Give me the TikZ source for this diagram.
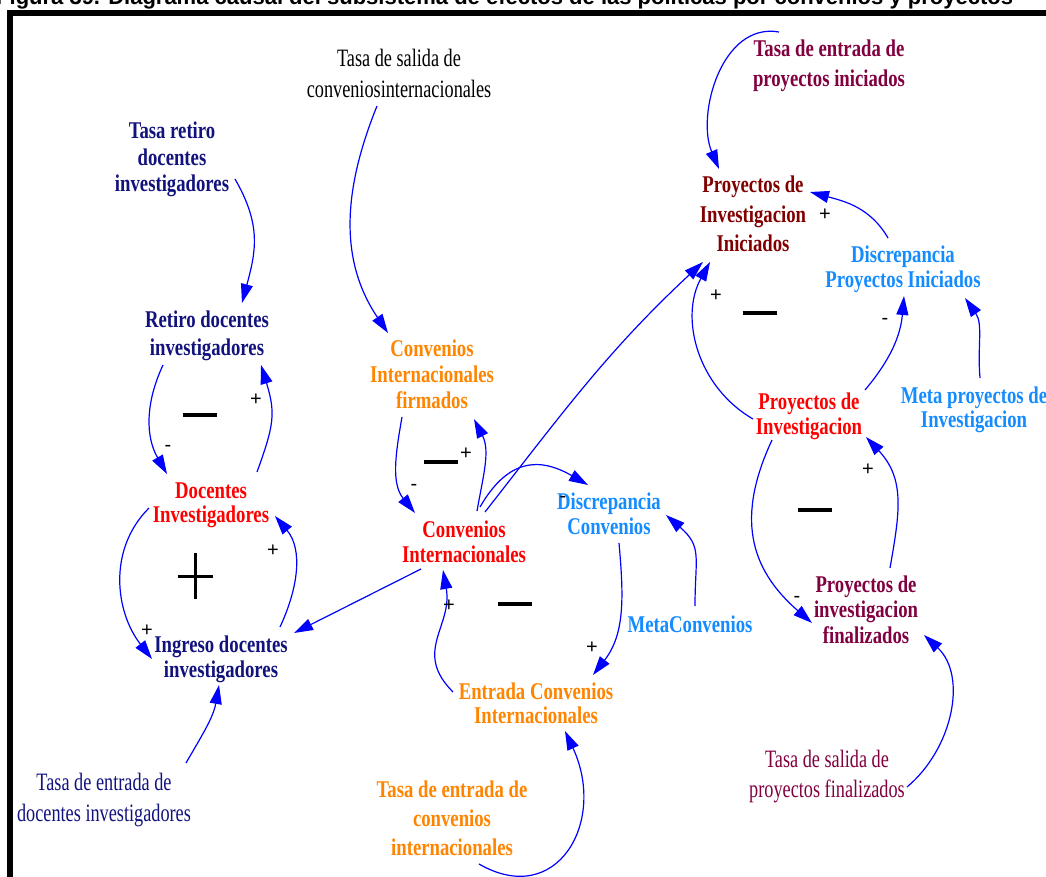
\documentclass[tikz,border=0pt]{standalone}
\usepackage{fontspec}
\usetikzlibrary{arrows.meta}
% condensed serif faces for the variable names
\newfontfamily\vsbold[FakeStretch=0.78]{Liberation Serif}
\newfontfamily\vsreg[FakeStretch=0.73]{Liberation Serif}
\newfontfamily\sgnfont{Liberation Sans}
\definecolor{navyc}{RGB}{18,18,125}
\definecolor{redc}{RGB}{255,0,0}
\definecolor{orangec}{RGB}{255,133,0}
\definecolor{lbluec}{RGB}{20,140,255}
\definecolor{darkredc}{RGB}{128,0,0}
\definecolor{maroonc}{RGB}{128,0,64}
\definecolor{linkblue}{RGB}{0,0,255}
% centred multi-line label whose baseline is that of its first line
\newcommand\vlines[2][26]{\baselineskip=#1pt\vtop{\halign{\hfil##\hfil\cr#2\crcr}}}
\tikzset{
  var/.style={inner sep=0pt, anchor=base, font=\vsbold\bfseries\fontsize{24}{26}\selectfont},
  rate/.style={inner sep=0pt, anchor=base, font=\vsreg\fontsize{25}{31}\selectfont},
  lnk/.style={draw=linkblue, line width=1.2pt, -{Triangle[length=19pt,width=12pt]}},
  sgn/.style={inner sep=0pt, anchor=base, font=\sgnfont\fontsize{20}{20}\selectfont},
  loopmark/.style={inner sep=0pt, anchor=center},
}
\begin{document}
\begin{tikzpicture}[x=1pt, y=1pt]
\useasboundingbox (0,0) rectangle (1046,-877);
\clip (0,0) rectangle (1046,-877);

% caption line above the frame
\node[anchor=base west, inner sep=0pt, font=\sgnfont\bfseries\fontsize{22}{22}\selectfont] (ttl) at (-4,-5)
  {Figura 39. Diagrama causal del subsistema de efectos de las pol\'iticas por convenios y proyectos};
% frame
\draw[line width=6pt] (9.5,-900) -- (9.5,-13.5) -- (1070,-13.5);

% variables
\node[var, text=navyc] (tr) at (172,-139) {\vlines[26.5]{Tasa retiro\cr docentes\cr investigadores}};
\node[var, text=navyc] (rd) at (207,-327) {\vlines[28]{Retiro docentes\cr investigadores}};
\node[var, text=redc] (di) at (211,-498) {\vlines[24.5]{Docentes\cr Investigadores}};
\node[var, text=navyc] (ig) at (221,-652) {\vlines[25]{Ingreso docentes\cr investigadores}};
\node[rate, text=navyc] (ted) at (104,-790) {\vlines[31]{Tasa de entrada de\cr docentes investigadores}};
\node[rate, text=black] (tsc) at (399,-67) {\vlines[31]{Tasa de salida de\cr conveniosinternacionales}};
\node[var, text=orangec] (cf) at (432,-356) {\vlines[26]{Convenios\cr Internacionales\cr firmados}};
\node[var, text=redc] (ci) at (464,-537) {\vlines[25]{Convenios\cr Internacionales}};
\node[var, text=lbluec] (dc) at (609,-509) {\vlines[25]{Discrepancia\cr Convenios}};
\node[var, text=lbluec] (mc) at (690,-632) {MetaConvenios};
\node[var, text=orangec] (ec) at (536,-699) {\vlines[24.5]{Entrada Convenios\cr Internacionales}};
\node[var, text=orangec] (tec) at (452,-797) {\vlines[29]{Tasa de entrada de\cr convenios\cr internacionales}};
\node[var, text=maroonc] (tep) at (829,-57) {\vlines[30]{Tasa de entrada de\cr proyectos iniciados}};
\node[var, text=darkredc] (pii) at (753,-193) {\vlines[29.5]{Proyectos de\cr Investigacion\cr Iniciados}};
\node[var, text=lbluec] (dpi) at (903,-262) {\vlines[25]{Discrepancia\cr Proyectos Iniciados}};
\node[var, text=lbluec] (mpi) at (974,-403) {\vlines[24]{Meta proyectos de\cr Investigacion}};
\node[var, text=redc] (pi) at (809,-409) {\vlines[25]{Proyectos de\cr Investigacion}};
\node[var, text=maroonc] (pf) at (866,-592) {\vlines[25.5]{Proyectos de\cr investigacion\cr finalizados}};
\node[rate, text=maroonc] (tsp) at (827,-767) {\vlines[30]{Tasa de salida de\cr proyectos finalizados}};

% causal links
\draw[lnk] ([shift={(63,-40)}]tr.base) to[out=-60,in=75,looseness=1.1] ([shift={(35,24)}]rd.base);
\draw[lnk] ([shift={(-44,-38)}]rd.base) to[out=-115,in=120] ([shift={(-44,24)}]di.base);
\draw[lnk] ([shift={(46,26)}]di.base) to[out=70,in=-73,looseness=1.2] ([shift={(54,-38)}]rd.base);
\draw[lnk] ([shift={(-62,-10)}]di.base) to[out=-135,in=128] ([shift={(-69,-7)}]ig.base);
\draw[lnk] ([shift={(59,25)}]ig.base) to[out=65,in=-50] ([shift={(64,-18)}]di.base);
\draw[lnk] ([shift={(82,27)}]ted.base) to[out=60,in=-100] ([shift={(-2,-33)}]ig.base);
\draw[lnk] ([shift={(-43,-32)}]ci.base) -- ([shift={(73,19)}]ig.base);
\draw[lnk] ([shift={(-22,-39)}]tsc.base) to[out=-112,in=124] ([shift={(-44,23)}]cf.base);
\draw[lnk] ([shift={(-30,-61)}]cf.base) to[out=-100,in=129] ([shift={(-49,24)}]ci.base);
\draw[lnk] ([shift={(13,26)}]ci.base) to[out=80,in=-63] ([shift={(42,-63)}]cf.base);
\draw[lnk] ([shift={(16,30)}]ci.base) to[out=60,in=150,looseness=1.3] ([shift={(-21,24)}]dc.base);
\draw[lnk] ([shift={(21,25)}]ci.base) to[out=52,in=-137] ([shift={(-50,-69)}]pii.base);
\draw[lnk] ([shift={(10,-34)}]dc.base) to[out=-85,in=52] ([shift={(57,24)}]ec.base);
\draw[lnk] ([shift={(5,26)}]mc.base) to[out=90,in=-41,looseness=1.3] ([shift={(57,-6)}]dc.base);
\draw[lnk] ([shift={(-83,7)}]ec.base) to[out=135,in=-80,looseness=1.2] ([shift={(-21,-33)}]ci.base);
\draw[lnk] ([shift={(27,-67)}]tec.base) .. controls +(-30:90) and +(-65:100) .. ([shift={(29,-32)}]ec.base);
\draw[lnk] ([shift={(-50,25)}]tep.base) to[out=170,in=113] ([shift={(-34,24)}]pii.base);
\draw[lnk] ([shift={(-15,24)}]dpi.base) to[out=120,in=-15] ([shift={(57,1)}]pii.base);
\draw[lnk] ([shift={(-56,-10)}]pi.base) to[out=150,in=-119] ([shift={(-43,-69)}]pii.base);
\draw[lnk] ([shift={(56,19)}]pi.base) to[out=50,in=-95] ([shift={(1,-34)}]dpi.base);
\draw[lnk] ([shift={(6,25)}]mpi.base) to[out=95,in=-55] ([shift={(62,-36)}]dpi.base);
\draw[lnk] ([shift={(-37,-31)}]pi.base) to[out=-115,in=139,looseness=1.15] ([shift={(-54,-31)}]pf.base);
\draw[lnk] ([shift={(24,24)}]pf.base) to[out=80,in=-47,looseness=1.1] ([shift={(57,-28)}]pi.base);
\draw[lnk] ([shift={(80,-20)}]tsp.base) to[out=40,in=-43] ([shift={(58,-43)}]pf.base);

% link polarities
\node[sgn] (s1) at (256,-405) {+};
\node[sgn] (s2) at (168,-451) {-};
\node[sgn] (s3) at (273,-556) {+};
\node[sgn] (s4) at (147,-636) {+};
\node[sgn] (s5) at (466,-459) {+};
\node[sgn] (s6) at (414,-490) {-};
\node[sgn] (s7) at (449,-611) {+};
\node[sgn] (s8) at (592,-653) {+};
\node[sgn] (s9) at (563,-502) {-};
\node[sgn] (s10) at (825,-221) {+};
\node[sgn] (s11) at (716,-301) {+};
\node[sgn] (s12) at (885,-324) {-};
\node[sgn] (s13) at (868,-475) {+};
\node[sgn] (s14) at (797,-602) {-};

% loop polarity marks
\node[loopmark] (l1) at (200,-414.5) {\rule{34pt}{4pt}};
\node[loopmark] (l2) at (195,-576) {\makebox[0pt]{\rule[-1.5pt]{35pt}{3pt}}\makebox[0pt]{\rule[-23pt]{3pt}{46pt}}};
\node[loopmark] (l3) at (441,-462) {\rule{34pt}{4pt}};
\node[loopmark] (l4) at (514.5,-604) {\rule{34pt}{4pt}};
\node[loopmark] (l5) at (759.5,-313) {\rule{34pt}{4pt}};
\node[loopmark] (l6) at (814.5,-510) {\rule{34pt}{4pt}};
\end{tikzpicture}
\end{document}
